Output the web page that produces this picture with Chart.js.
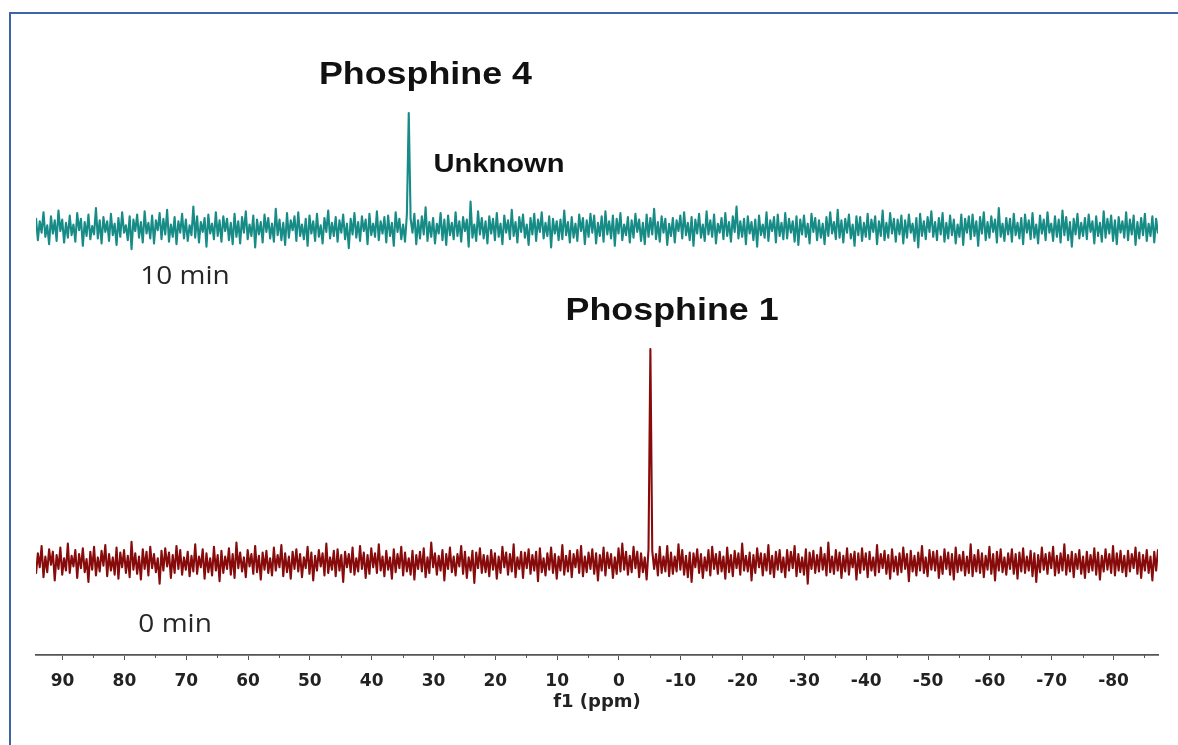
<!DOCTYPE html>
<html>
<head>
<meta charset="utf-8">
<script src="https://cdn.jsdelivr.net/npm/chart.js@4.4.1/dist/chart.umd.min.js"></script>
<style>
  html, body { margin: 0; padding: 0; background: #fff; }
  #wrap { position: relative; width: 1178px; height: 745px; overflow: hidden; }
  #frame { position: absolute; left: 9px; top: 12px; right: -10px; bottom: -10px;
           border-left: 2.5px solid #4064a6; border-top: 2.5px solid #4064a6; }
  canvas { position: absolute; left: 0; top: 0; }
</style>
</head>
<body>
<div id="wrap">
  <div id="frame"></div>
  <canvas id="spectrum" width="1178" height="745"></canvas>
</div>
<script>
// 31P spectral window (ppm), axis runs from high to low field
const ppmFrom = 94.3;
const ppmTo = -87.2;

// labelled axis ticks and unlabelled minor ticks (ppm)
const majorTicks = [90, 80, 70, 60, 50, 40, 30, 20, 10, 0, -10, -20, -30, -40, -50, -60, -70, -80];
const minorTicks = [85, 75, 65, 55, 45, 35, 25, 15, 5, -5, -15, -25, -35, -45, -55, -65, -75, -85];

// trace names
const traceNames = ['10 min', '0 min'];

// baseline intensities (arbitrary units), sampled evenly across the window
const baseline10min = [
1.2,-1.5,0.8,-0.6,1.9,-1.1,0.3,-2.0,1.4,-0.7,0.9,-1.6,2.1,-0.4,1.0,-1.8,0.6,-1.2,1.5,-0.9,
0.4,-1.7,1.8,-0.3,1.1,-2.2,0.7,-1.0,1.6,-1.4,0.2,-0.8,2.4,-1.3,0.9,-1.9,1.3,-0.5,0.8,-1.6,
1.7,-0.9,0.5,-2.1,1.2,-1.1,1.9,-0.6,0.3,-1.5,1.4,-2.6,1.0,-0.4,1.6,-1.2,0.7,-1.8,2.0,-0.7,
0.6,-1.3,1.5,-1.9,0.9,-0.3,1.8,-1.4,1.1,-0.8,2.2,-1.7,0.4,-1.1,1.3,-2.0,0.8,-0.6,1.7,-1.3,
1.0,-1.6,0.3,-0.9,2.6,-1.2,1.4,-1.8,0.7,-0.5,1.2,-2.3,1.6,-0.7,0.5,-1.4,1.9,-1.0,0.9,-1.7,
1.4,-0.4,1.1,-1.5,0.6,-2.0,1.7,-1.1,0.8,-1.9,1.3,-0.6,2.0,-1.4,0.4,-1.0,1.5,-2.4,1.0,-0.8,
0.7,-1.8,1.6,-0.5,1.2,-1.3,0.5,-1.7,2.3,-0.9,1.0,-1.5,0.6,-2.1,1.8,-1.2,0.9,-0.3,1.4,-1.6,
1.9,-1.0,0.4,-1.4,1.1,-2.2,1.5,-0.7,0.8,-1.6,1.7,-1.1,0.3,-1.9,1.2,-0.5,2.1,-1.3,0.6,-1.0,
1.3,-1.7,0.9,-0.6,1.6,-1.4,0.5,-2.5,1.1,-0.8,1.8,-1.2,0.7,-1.6,1.4,-0.4,1.0,-2.0,1.7,-0.9,
0.5,-1.1,2.0,-1.5,0.8,-0.7,1.3,-1.8,1.5,-1.0,0.6,-2.2,1.9,-0.5,1.1,-1.4,0.4,-1.7,1.6,-1.2,
1.1,-0.6,1.7,-2.0,0.9,-1.3,1.4,-0.8,2.5,-1.6,0.7,-1.1,1.2,-1.9,0.5,-0.7,1.8,-1.5,1.0,-2.1,
1.5,-0.9,0.6,-1.4,1.9,-1.0,0.8,-1.7,1.3,-0.4,1.0,-2.3,1.6,-1.2,0.4,-1.6,2.0,-0.8,1.2,-1.3,
0.8,-1.9,1.4,-0.7,1.1,-1.5,1.8,-1.1,0.5,-2.0,1.5,-0.6,0.9,-1.4,2.2,-1.0,0.7,-1.8,1.3,-0.5,
1.6,-1.2,0.4,-2.1,1.2,-0.8,1.7,-1.6,1.0,-0.5,1.9,-1.3,0.6,-1.0,1.4,-2.4,1.1,-0.7,0.8,-1.5,
1.0,-1.4,2.1,-0.9,0.7,-1.8,1.3,-1.2,0.5,-1.6,1.6,-0.4,1.2,-2.0,0.9,-1.1,1.7,-0.6,1.5,-1.9,
0.6,-1.0,1.4,-1.7,2.0,-0.8,0.8,-1.3,1.5,-2.2,1.1,-0.7,1.8,-1.5,0.4,-0.9,1.3,-1.8,0.9,-1.2,
1.7,-0.5,1.0,-1.6,0.6,-2.0,1.6,-1.1,1.2,-0.8,2.3,-1.4,0.7,-1.7,1.4,-0.6,1.1,-2.1,0.5,-1.0,
1.2,-1.8,0.9,-0.4,1.5,-1.3,1.9,-0.9,0.6,-1.5,1.3,-2.2,1.0,-0.7,1.7,-1.2,0.4,-1.6,2.0,-0.8,
0.9,-1.1,1.6,-1.9,0.5,-0.6,1.2,-1.4,1.8,-1.0,0.7,-1.7,1.4,-0.5,2.6,-1.3,0.8,-1.1,1.1,-2.0,
1.4,-0.7,0.7,-1.5,1.0,-2.3,1.5,-0.9,0.4,-1.2,1.9,-1.6,0.9,-0.4,1.3,-1.8,1.6,-1.0,0.6,-1.4,
1.8,-1.3,1.1,-0.6,0.8,-1.7,1.4,-2.1,1.0,-0.8,1.5,-1.1,0.5,-1.9,1.7,-0.5,1.2,-1.5,0.9,-1.2,
0.5,-2.0,1.3,-1.0,1.9,-0.7,0.7,-1.4,2.2,-1.2,0.9,-1.8,1.1,-0.6,1.6,-1.3,0.4,-2.2,1.4,-0.9,
1.3,-1.6,0.6,-1.1,1.7,-1.4,1.0,-0.5,1.4,-2.0,0.8,-1.0,2.1,-1.5,0.6,-1.2,1.8,-0.7,1.1,-1.7,
1.0,-0.8,1.5,-1.9,0.9,-1.2,1.6,-0.6,0.5,-1.6,1.2,-2.4,1.7,-1.0,0.8,-1.4,1.3,-0.5,2.0,-1.1,
0.7,-1.5,1.2,-0.8,1.8,-1.7,0.6,-1.3,1.5,-0.9,1.0,-1.9,0.4,-1.1,1.6,-2.1,1.1,-0.6,1.4,-1.4,
1.6,-1.0,0.8,-2.2,1.3,-0.7,1.9,-1.5,0.7,-1.2,1.4,-0.5,1.0,-1.8,2.4,-1.1,0.5,-1.6,1.2,-0.8,
1.1,-1.7,1.7,-0.9,0.6,-1.3,1.2,-2.0,1.6,-0.6,0.9,-1.4,1.8,-1.2,0.4,-1.9,1.5,-0.7,1.0,-1.5,
1.9,-0.6,0.5,-1.6,1.4,-1.1,1.0,-1.8,2.1,-0.9,1.3,-1.5,0.7,-2.3,1.1,-0.8,1.7,-1.3,0.6,-1.0,
1.2,-1.4,1.6,-0.5,0.8,-1.9,1.4,-1.0,0.6,-1.7,2.0,-1.2,1.1,-0.7,1.5,-1.6,0.9,-2.0,1.3,-0.6,
0.8,-1.2,1.9,-1.5,1.0,-0.8,1.5,-2.1,0.7,-1.3,1.2,-0.9,1.7,-1.6,0.5,-1.0,1.4,-1.8,1.1,-0.7
];

const baseline0min = [
-1.4,1.1,-0.6,2.0,-1.8,0.7,-1.2,1.6,-0.3,1.3,-2.2,0.9,-0.8,1.8,-1.5,0.5,-1.0,2.3,-1.3,0.8,
-0.5,1.5,-1.9,1.0,-0.7,1.7,-1.2,0.4,-2.4,1.3,-0.9,1.9,-1.6,0.6,-1.1,1.4,-0.4,2.1,-1.7,1.0,
-1.0,0.6,-1.5,1.8,-2.0,1.2,-0.6,1.5,-1.3,0.8,-1.8,2.5,-0.9,1.1,-1.4,0.7,-2.1,1.6,-0.8,1.3,
-1.6,1.9,-0.7,1.0,-1.2,0.5,-2.6,1.4,-1.0,1.7,-0.5,1.2,-1.9,0.9,-1.3,2.0,-0.8,1.5,-1.5,0.6,
-0.9,1.3,-1.7,0.8,-1.1,2.2,-1.4,0.7,-0.6,1.6,-2.0,1.1,-1.2,0.5,-1.6,1.9,-1.0,0.9,-2.3,1.4,
-1.3,0.7,-0.8,1.7,-1.5,1.0,-1.9,2.4,-0.7,1.2,-1.1,0.6,-1.8,1.5,-0.5,1.0,-1.4,2.0,-1.2,0.8,
-2.1,1.2,-0.9,1.4,-1.3,0.5,-1.6,1.8,-1.0,0.9,-0.6,2.1,-1.7,1.1,-1.2,0.7,-2.0,1.3,-0.8,1.6,
-1.1,1.0,-1.8,0.6,-0.7,1.9,-1.4,1.2,-2.2,0.8,-1.0,1.5,-0.5,1.1,-1.6,2.3,-1.3,0.6,-0.9,1.4,
-1.7,1.6,-1.0,0.9,-2.4,1.3,-0.6,1.0,-1.2,1.8,-1.5,0.5,-1.1,2.0,-0.8,1.2,-1.9,0.9,-1.4,1.7,
-0.6,1.1,-1.3,2.2,-1.0,0.7,-1.7,1.4,-0.9,0.6,-2.0,1.6,-1.2,1.0,-0.7,1.9,-1.6,1.2,-1.1,0.5,
-1.5,1.4,-2.1,0.9,-0.8,1.3,-1.1,1.7,-1.8,0.6,-1.3,2.4,-0.6,1.1,-1.5,0.8,-1.0,1.5,-2.2,1.0,
-0.8,1.8,-1.2,0.7,-1.6,1.0,-0.5,2.0,-1.4,1.3,-1.9,0.6,-1.0,1.4,-2.5,1.2,-0.7,1.7,-1.3,0.9,
-1.2,0.8,-1.7,1.5,-0.9,1.1,-2.0,0.7,-1.3,1.9,-0.6,1.2,-1.5,1.0,-1.1,2.2,-1.8,0.6,-0.8,1.3,
-1.9,1.2,-0.7,1.6,-1.4,0.9,-1.0,1.3,-2.3,1.7,-1.2,0.5,-1.6,1.1,-0.9,1.8,-1.3,1.0,-2.0,0.7,
-1.0,2.1,-1.5,0.8,-1.1,1.4,-1.8,1.0,-0.6,1.5,-1.3,2.0,-1.7,0.7,-1.2,1.2,-0.8,1.6,-1.4,1.1,
-2.2,0.9,-1.0,1.8,-1.6,1.2,-0.7,1.0,-1.9,0.6,-1.4,1.7,-1.1,2.3,-0.9,1.3,-1.5,0.8,-1.2,1.9,
-0.7,1.3,-1.8,1.1,-1.2,0.6,-2.1,1.6,-1.0,1.4,-0.8,1.0,-1.6,1.9,-1.3,0.7,-1.1,2.0,-1.7,1.2,
-1.4,0.7,-1.1,2.2,-0.9,1.5,-1.5,0.8,-1.8,1.2,-2.4,1.1,-0.6,1.6,-1.3,1.0,-1.9,0.6,-1.0,1.5,
-1.6,1.9,-0.8,1.0,-1.4,1.3,-1.1,0.7,-2.0,1.8,-1.2,0.9,-1.7,1.4,-0.7,1.1,-1.5,2.3,-1.0,0.8,
-1.1,1.2,-2.2,0.9,-1.3,1.7,-0.6,1.1,-1.6,1.0,-1.0,2.1,-1.4,0.8,-1.8,1.3,-0.9,1.5,-1.2,0.6,
-1.8,1.5,-1.0,1.3,-0.7,2.0,-1.7,1.0,-1.2,0.6,-1.5,1.6,-2.6,1.2,-0.8,1.4,-1.3,0.9,-1.1,1.8,
-0.9,1.0,-1.6,2.4,-1.2,0.7,-1.4,1.5,-1.0,1.2,-1.9,0.8,-1.1,1.7,-1.5,1.0,-0.6,1.3,-2.1,1.1,
-1.3,1.7,-0.9,1.1,-1.8,1.3,-1.0,0.6,-1.6,2.1,-1.2,1.0,-0.7,1.4,-1.4,0.9,-2.0,1.6,-1.1,0.7,
-1.5,1.1,-1.2,1.8,-0.8,1.0,-2.3,1.4,-1.1,0.8,-1.6,1.2,-1.0,2.0,-1.3,0.6,-1.7,1.5,-0.9,1.3,
-1.0,1.4,-1.9,0.7,-1.4,1.6,-0.8,1.2,-1.5,1.0,-2.1,1.8,-1.2,0.9,-1.0,1.3,-1.6,0.7,-1.3,2.2,
-1.7,0.9,-1.1,1.5,-1.3,1.1,-1.8,0.8,-0.9,1.9,-1.4,1.0,-2.2,1.3,-1.0,1.6,-1.2,0.6,-1.5,1.1,
-0.8,1.6,-1.4,1.0,-2.0,1.2,-1.1,1.7,-1.3,0.7,-1.0,1.4,-1.7,1.1,-2.4,0.9,-1.2,1.8,-0.9,1.0,
-1.4,1.2,-0.7,1.9,-1.6,0.8,-1.3,1.1,-1.0,2.2,-1.5,0.9,-1.1,1.3,-1.8,1.0,-0.8,1.5,-1.4,0.7,
-1.9,1.3,-1.2,0.9,-1.0,1.7,-1.5,1.2,-2.1,0.8,-1.1,1.6,-0.9,1.0,-1.3,2.0,-1.6,1.1,-1.0,1.4,
-1.2,0.8,-1.7,1.4,-1.1,1.0,-0.7,1.8,-1.4,1.2,-1.9,0.9,-1.0,1.5,-1.3,0.7,-2.2,1.3,-1.0,1.6
];

// resonances: position (ppm) and peak height above the baseline
const peaks10minPpm = [34.0, 24.0];
const peaks10minHeight = [14.0, 3.2];
const peaks0minPpm = [-5.0];
const peaks0minHeight = [26.0];

// vertical stacking of the two traces
const stackOffset = { '10 min': 52.1, '0 min': 11.3 };

function buildTrace(baseline, peakPpm, peakHeight, offset) {
  const step = (ppmFrom - ppmTo) / (baseline.length - 1);
  const pts = baseline.map((v, i) => ({ x: ppmFrom - i * step, y: offset + v }));
  peakPpm.forEach((p, k) => {
    const i = Math.round((ppmFrom - p) / step);
    pts[i].y = offset + peakHeight[k];
  });
  return pts;
}

// text annotations anchored in data space
const annotations = [
  { text: 'Phosphine 4', ppm: 31.3, y: 69.6, font: 'bold 32px "Liberation Sans", Arial, sans-serif', color: '#111' },
  { text: 'Unknown',     ppm: 19.4, y: 58.9, font: 'bold 26px "Liberation Sans", Arial, sans-serif', color: '#111' },
  { text: 'Phosphine 1', ppm: -8.6, y: 40.8, font: 'bold 32px "Liberation Sans", Arial, sans-serif', color: '#111' },
  { text: traceNames[0], ppm: 70.2, y: 45.2, font: '25px "Open Sans", "Noto Sans", sans-serif', color: '#262626' },
  { text: traceNames[1], ppm: 71.8, y: 2.8,  font: '25px "Open Sans", "Noto Sans", sans-serif', color: '#262626' }
];

const annotationPlugin = {
  id: 'spectrumLabels',
  afterDraw(chart) {
    const { ctx, scales: { x, y } } = chart;
    annotations.forEach(a => {
      ctx.save();
      ctx.translate(x.getPixelForValue(a.ppm), y.getPixelForValue(a.y));
      ctx.scale(1.12, 1);
      ctx.font = a.font;
      ctx.fillStyle = a.color;
      ctx.textAlign = 'center';
      ctx.textBaseline = 'alphabetic';
      ctx.fillText(a.text, 0, 0);
      ctx.restore();
    });
  }
};

const minorTickPlugin = {
  id: 'minorTicks',
  afterDraw(chart) {
    const { ctx, scales: { x } } = chart;
    ctx.save();
    ctx.strokeStyle = '#555';
    ctx.lineWidth = 1;
    minorTicks.forEach(v => {
      const px = Math.round(x.getPixelForValue(v)) + 0.5;
      ctx.beginPath();
      ctx.moveTo(px, x.top);
      ctx.lineTo(px, x.top + 3);
      ctx.stroke();
    });
    ctx.restore();
  }
};

new Chart(document.getElementById('spectrum'), {
  type: 'line',
  data: {
    datasets: [
      {
        label: traceNames[0],
        data: buildTrace(baseline10min, peaks10minPpm, peaks10minHeight, stackOffset['10 min']),
        borderColor: '#178b86',
        borderWidth: 2.1,
        borderJoinStyle: 'round',
        pointRadius: 0,
        tension: 0
      },
      {
        label: traceNames[1],
        data: buildTrace(baseline0min, peaks0minPpm, peaks0minHeight, stackOffset['0 min']),
        borderColor: '#870b0b',
        borderWidth: 2.1,
        borderJoinStyle: 'round',
        pointRadius: 0,
        tension: 0
      }
    ]
  },
  options: {
    responsive: false,
    animation: false,
    events: [],
    layout: { padding: { left: 36, right: 20, top: 40, bottom: 0 } },
    plugins: { legend: { display: false }, tooltip: { enabled: false } },
    scales: {
      x: {
        type: 'linear',
        reverse: true,
        min: ppmTo,
        max: ppmFrom,
        afterBuildTicks(scale) { scale.ticks = majorTicks.map(v => ({ value: v })); },
        afterFit(scale) { scale.height = 90; },
        border: { display: true, color: '#555', width: 1.8 },
        grid: { drawOnChartArea: false, drawTicks: true, tickLength: 5, color: '#555' },
        ticks: {
          autoSkip: false,
          maxRotation: 0,
          padding: 11,
          color: '#222',
          font: { family: '"DejaVu Sans", Verdana, sans-serif', weight: 'bold', size: 17 },
          callback: v => String(v)
        },
        title: {
          display: true,
          text: 'f1 (ppm)',
          color: '#222',
          font: { family: '"DejaVu Sans", Verdana, sans-serif', weight: 'bold', size: 18 },
          padding: { top: 0, bottom: 32 }
        }
      },
      y: { display: false, min: 0, max: 75 }
    }
  },
  plugins: [annotationPlugin, minorTickPlugin]
});
</script>
</body>
</html>
